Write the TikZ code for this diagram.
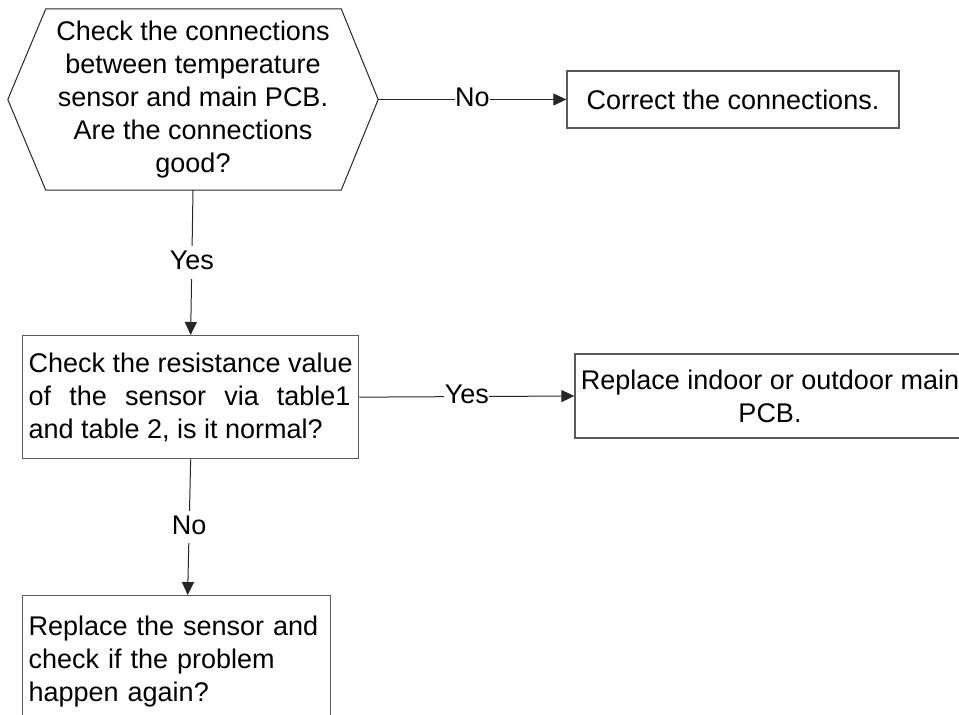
\documentclass[tikz,border=0pt]{standalone}
\usepackage{fontspec}
\setmainfont{Liberation Sans}
\usetikzlibrary{arrows.meta}
\begin{document}
\begin{tikzpicture}[x=1pt,y=-1pt,
  every node/.style={font=\fontsize{27}{33}\selectfont},
  box/.style={draw=black!65, line width=1.3pt},
  hexline/.style={draw=black!85, line width=1pt},
  conn/.style={draw=black!85, line width=1pt, -{Triangle[length=13pt,width=12pt]}},
  lbl/.style={fill=white, inner xsep=0.5pt, inner ysep=4pt, text height=19.5pt, text depth=5pt}]
\useasboundingbox (0,0) rectangle (959,715);
\clip (0,0) rectangle (959,715);

\node[minimum width=370pt, minimum height=181pt, align=center, inner sep=0pt] (hex) at (193,99.5)
  {Check the connections\\between temperature\\sensor and main PCB.\\Are the connections\\good?};
\draw[hexline] (hex.west) -- ([xshift=38pt]hex.north west) -- ([xshift=-37pt]hex.north east)
  -- (hex.east) -- ([xshift=-37pt]hex.south east) -- ([xshift=38pt]hex.south west) -- cycle;

\node[box, minimum width=332pt, minimum height=57pt, inner sep=0pt] (fix) at (733,99.5)
  {Correct the connections.};

\node[box, anchor=north west, minimum width=336pt, minimum height=123pt, align=left,
  inner xsep=5pt, inner ysep=0pt] (res) at (22,335)
  {Check the resistance value\\\hbox to 322pt{of\hfill the\hfill sensor\hfill via\hfill table1}\\and table 2, is it normal?};

\node[box, minimum width=390pt, minimum height=84pt, align=center, inner sep=0pt] (repl) at (770,396)
  {Replace indoor or outdoor main\\PCB.};

\node[box, anchor=north west, align=left, text width=296pt, inner xsep=6pt, inner ysep=20pt] (sens) at (22,595)
  {Replace the sensor and\\check if the problem\\happen again?};

\draw[conn] (hex.east) -- node[lbl]{No} (fix.west);
\draw[conn] (hex.south) -- node[lbl]{Yes} (res.north);
\draw[conn] (res.east) -- node[lbl]{Yes} (repl.west);
\draw[conn] (res.south) -- node[lbl]{No} ([xshift=11pt]sens.north);
\end{tikzpicture}
\end{document}
